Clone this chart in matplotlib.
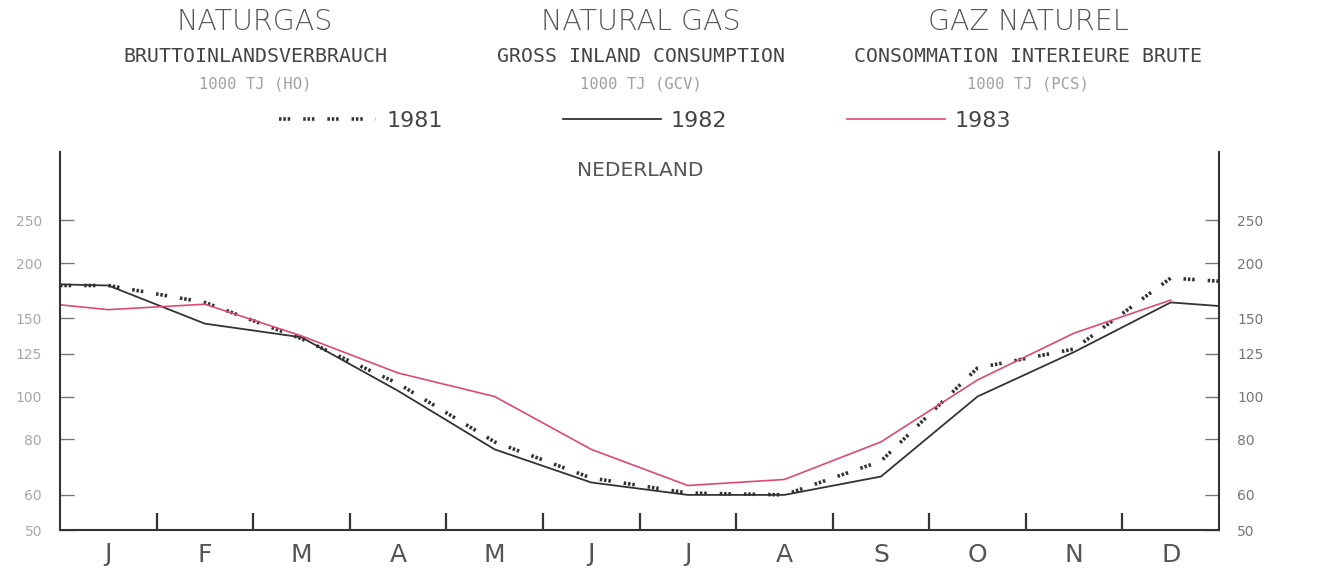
import numpy as np
import matplotlib
matplotlib.use('Agg')
import matplotlib.pyplot as plt

# Naturgas / Natural gas / Gaz naturel - Nederland, 1000 TJ
months = ['J', 'F', 'M', 'A', 'M', 'J', 'J', 'A', 'S', 'O', 'N', 'D']
# first and last value are the line ends at the axis edges
v1981 = [178, 178, 163, 135, 107, 79, 65.5, 60.6, 60, 71.5, 116, 128, 185, 182]
v1982 = [179, 178, 146, 136, 103, 76, 64, 60, 60, 66, 100, 126, 163, 160]
v1983 = [161, 157, 161.5, 137, 113, 100, 76, 63, 65, 79, 109, 139, 165]
yticks = [50, 60, 80, 100, 125, 150, 200, 250]

centers = np.arange(12) + 0.5
x_full = np.concatenate([[0], centers, [12]])
x_1983 = np.concatenate([[0], centers])

fig = plt.figure(figsize=(13.19, 5.8), dpi=100)
ax = fig.add_axes([60/1319, 1 - 530/580, (1219 - 60)/1319, (530 - 152)/580])

dots = (0, (0.7, 0.5, 0.7, 0.5, 0.7, 3.6))
ax.plot(x_full, v1981, color='#333333', lw=2.6, linestyle=dots,
        dash_capstyle='butt', label='1981')
ax.plot(x_full, v1982, color='#333333', lw=1.3, label='1982')
ax.plot(x_1983, v1983, color='#dc4a74', lw=1.2, label='1983')

ax.set_yscale('log')
ax.set_ylim(50, 356)
ax.set_xlim(0, 12)

ax.set_yticks(yticks)
ax.set_yticklabels([str(v) for v in yticks])
ax.yaxis.set_minor_locator(matplotlib.ticker.NullLocator())
ax.tick_params(axis='y', which='major', direction='in', length=10, width=1,
               color='#777777', left=True, right=True,
               labelleft=True, labelright=True, labelsize=10, pad=13)
for t in ax.yaxis.get_major_ticks():
    t.label1.set_color('#a8a8a8')
    t.label2.set_color('#777777')

# month boundaries as major ticks, month names on minor ticks
ax.set_xticks(np.arange(1, 12))
ax.set_xticklabels([])
ax.tick_params(axis='x', which='major', direction='in', length=12, width=1.6,
               color='#333333')
ax.set_xticks(centers, minor=True)
ax.set_xticklabels(months, minor=True)
ax.tick_params(axis='x', which='minor', length=0, pad=9, labelsize=18,
               labelcolor='#555555')

ax.spines['top'].set_visible(False)
for s in ['left', 'right', 'bottom']:
    ax.spines[s].set_linewidth(1.5)
    ax.spines[s].set_color('#333333')

# titles in three languages
def fx(px):
    return px / 1319

def fy(py):
    return 1 - py / 580

titles = ['NATURGAS', 'NATURAL GAS', 'GAZ NATUREL']
subtitles = ['BRUTTOINLANDSVERBRAUCH', 'GROSS INLAND CONSUMPTION',
             'CONSOMMATION INTERIEURE BRUTE']
units = ['1000 TJ (HO)', '1000 TJ (GCV)', '1000 TJ (PCS)']
title_x = [255, 641, 1028]
for i in range(3):
    fig.text(fx(title_x[i]), fy(22), titles[i], ha='center', va='center',
             fontsize=20.5, color='#555555', fontweight='light')
    fig.text(fx(title_x[i]), fy(57), subtitles[i], ha='center', va='center',
             fontsize=14.3, color='#444444', family='DejaVu Sans Mono')
    fig.text(fx(title_x[i]), fy(84), units[i], ha='center', va='center',
             fontsize=11.2, color='#a0a0a0', family='DejaVu Sans Mono')

fig.text(fx(640), fy(170), 'NEDERLAND', ha='center', va='center',
         fontsize=14.5, color='#555555')

fig.legend(loc='center', bbox_to_anchor=(fx(645), fy(121)), ncol=3,
           frameon=False, fontsize=16, handlelength=4.4, handletextpad=0.45,
           columnspacing=5.4, labelcolor='#444444')

fig.savefig('out.png', dpi=100, facecolor='white')
